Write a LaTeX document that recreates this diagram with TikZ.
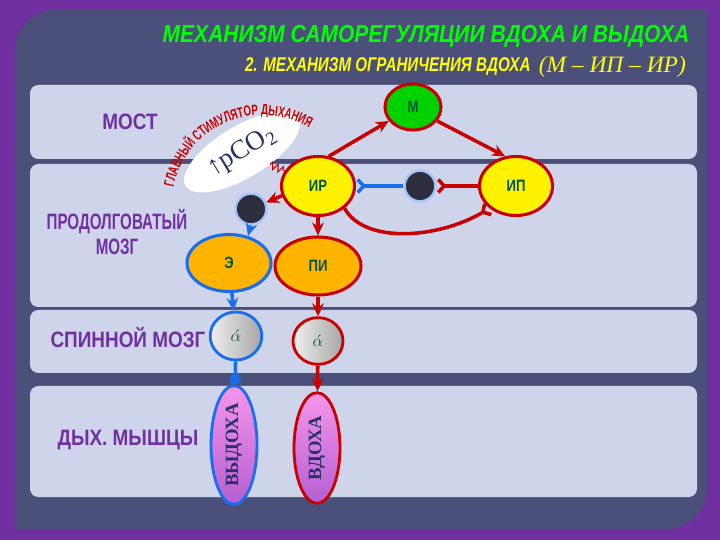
\documentclass[tikz,border=0pt]{standalone}
\usepackage{fontspec}
\setmainfont{Liberation Serif}
\setsansfont{Liberation Sans}
\newfontfamily\arcfont[FakeStretch=0.66]{Liberation Sans}
\usepackage{graphicx}
\usetikzlibrary{positioning,arrows.meta,shapes.geometric,decorations.text,decorations.pathmorphing}
\definecolor{framepurple}{RGB}{112,48,160}
\definecolor{slatebg}{RGB}{74,80,122}
\definecolor{bandbg}{RGB}{206,212,234}
\colorlet{lblpurple}{framepurple}
\definecolor{nodetext}{RGB}{0,85,60}
\definecolor{linkred}{RGB}{200,0,0}
\definecolor{linkblue}{RGB}{25,110,240}
\definecolor{titlegreen}{RGB}{0,255,0}
\definecolor{titleyellow}{RGB}{255,255,0}
\definecolor{cellgreen}{RGB}{0,210,0}
\definecolor{cellorange}{RGB}{255,180,0}
\definecolor{dotfill}{RGB}{45,45,62}
\definecolor{co2text}{RGB}{40,50,100}
\definecolor{musclepink}{RGB}{245,150,235}
\definecolor{muscleviolet}{RGB}{180,95,210}
\newcommand{\narrow}[2][.8]{\scalebox{#1}[1]{#2}}

\begin{document}
\begin{tikzpicture}[x=0.03cm,y=-0.03cm,
    zone/.style={text=lblpurple,font=\sffamily\bfseries\fontsize{19}{21}\selectfont,align=center,xscale=.85},
    cell/.style={ellipse,draw=linkred,line width=2.6pt,fill=yellow,text=nodetext,inner sep=0pt,font=\sffamily\bfseries\fontsize{14}{16}\selectfont},
    dot/.style={circle,fill=dotfill,draw=linkblue!40,line width=2pt,minimum size=0.92cm,inner sep=0pt},
    motor/.style={ellipse,draw=linkred,line width=2.4pt,left color=gray!12,right color=gray!70,text=nodetext,inner sep=0pt,minimum width=1.55cm,minimum height=1.44cm,font=\fontsize{15}{17}\selectfont},
    muscle/.style={ellipse,draw=linkred,line width=2.4pt,top color=musclepink,bottom color=muscleviolet,text=co2text,inner sep=0pt,minimum width=1.38cm,minimum height=3.32cm,font=\bfseries\fontsize{16}{18}\selectfont},
    exc/.style={-{Stealth[length=11pt,width=10pt]},line width=3pt,draw=linkred},
    inh/.style={-{Straight Barb[reversed,length=5pt,width=11pt]},line width=3pt,draw=linkred}]
    \fill[framepurple] (0,0) rectangle (720,540);
    \fill[slatebg] (15,529) -- (15,50) arc[start angle=180,end angle=270,radius=40] -- (707,10) -- (707,489) arc[start angle=0,end angle=90,radius=40] -- cycle;
    \fill[bandbg,rounded corners=0.25cm] (30,85) rectangle (697,159);
    \fill[bandbg,rounded corners=0.25cm] (30,164) rectangle (697,307);
    \fill[bandbg,rounded corners=0.25cm] (30,310) rectangle (697,373);
    \fill[bandbg,rounded corners=0.25cm] (30,386) rectangle (697,497);
    \node[text=titlegreen,font=\sffamily\bfseries\itshape\fontsize{21}{24}\selectfont] (head) at (426,36) {\narrow[.855]{МЕХАНИЗМ САМОРЕГУЛЯЦИИ ВДОХА И ВЫДОХА}};
    \node[anchor=east,text=titleyellow,font=\itshape\fontsize{20}{22}\selectfont] (subtag) at (690,67) {(М – ИП – ИР)};
    \node[left=0pt of subtag,text=titleyellow,font=\sffamily\bfseries\itshape\fontsize{17}{20}\selectfont] (sub) {\narrow[.76]{2. МЕХАНИЗМ ОГРАНИЧЕНИЯ ВДОХА}};
    \node[zone] (pons) at (130,122) {МОСТ};
    \node[zone,xscale=.8] (medulla) at (117,232) {ПРОДОЛГОВАТЫЙ\\МОЗГ};
    \node[zone] (spine) at (128,338) {СПИННОЙ МОЗГ};
    \node[zone] (muscles) at (128,440) {ДЫХ. МЫШЦЫ};
    \node[ellipse,fill=white,minimum width=3.95cm,minimum height=1.55cm,rotate=31,text=co2text,font=\fontsize{23}{26}\selectfont] (co2) at (242,152) {↑pCO\textsubscript{2}};
    \path[decorate,decoration={text along path,text align=center,text color=linkred,text={|\arcfont\bfseries\fontsize{12.5}{14}\selectfont|ГЛАВНЫЙ СТИМУЛЯТОР ДЫХАНИЯ}}] (262,205) ++(189:90) arc[start angle=189,end angle=304,radius=90];
    \node[cell,fill=cellgreen,minimum width=1.68cm,minimum height=1.38cm] (m) at (413,107) {\narrow{М}};
    \node[cell,minimum width=2.19cm,minimum height=1.77cm] (ir) at (318,186) {\narrow{ИР}};
    \node[cell,minimum width=2.19cm,minimum height=1.77cm] (ip) at (516,186) {\narrow{ИП}};
    \node[dot] (gate) at (420,186) {};
    \node[dot] (relay) at (251,209) {};
    \node[cell,draw=linkblue,fill=cellorange,minimum width=2.52cm,minimum height=1.71cm] (e) at (229,263) {\narrow{Э}};
    \node[cell,fill=cellorange,minimum width=2.58cm,minimum height=1.74cm] (pi) at (318,266) {\narrow{ПИ}};
    \node[motor,draw=linkblue] (mexp) at (236,336) {$\acute{\alpha}$};
    \node[motor,minimum width=1.5cm,minimum height=1.4cm] (minsp) at (318,341) {$\acute{\alpha}$};
    \node[muscle,draw=linkblue] (exp) at (234,445) {\rotatebox{90}{ВЫДОХА}};
    \node[muscle] (insp) at (317,448) {\rotatebox{90}{ВДОХА}};
    \draw[linkred,line width=.9pt,decorate,decoration={zigzag,amplitude=3pt,segment length=5pt}] (co2) -- (ir);
    \draw[exc] (ir.70) -- (m.210); \draw[exc] (m.-30) -- (ip.110);
    \draw[exc] (ir.195) -- (relay); \draw[exc] (ir) -- (pi);
    \draw[inh,draw=linkblue] (gate) -- (ir); \draw[inh] (ip) -- (gate);
    \draw[inh] (ir.-40) .. controls (365,245) and (440,238) .. (ip.-140);
    \draw[exc,draw=linkblue] (relay.south) -- (e.55); \draw[exc,draw=linkblue] (e) -- (mexp);
    \draw[exc] (pi) -- (minsp);
    \draw[-{Circle[length=9pt]},line width=3pt,draw=linkblue] (mexp) -- (exp);
    \draw[exc] (minsp) -- (insp);
  \end{tikzpicture}
\end{document}
